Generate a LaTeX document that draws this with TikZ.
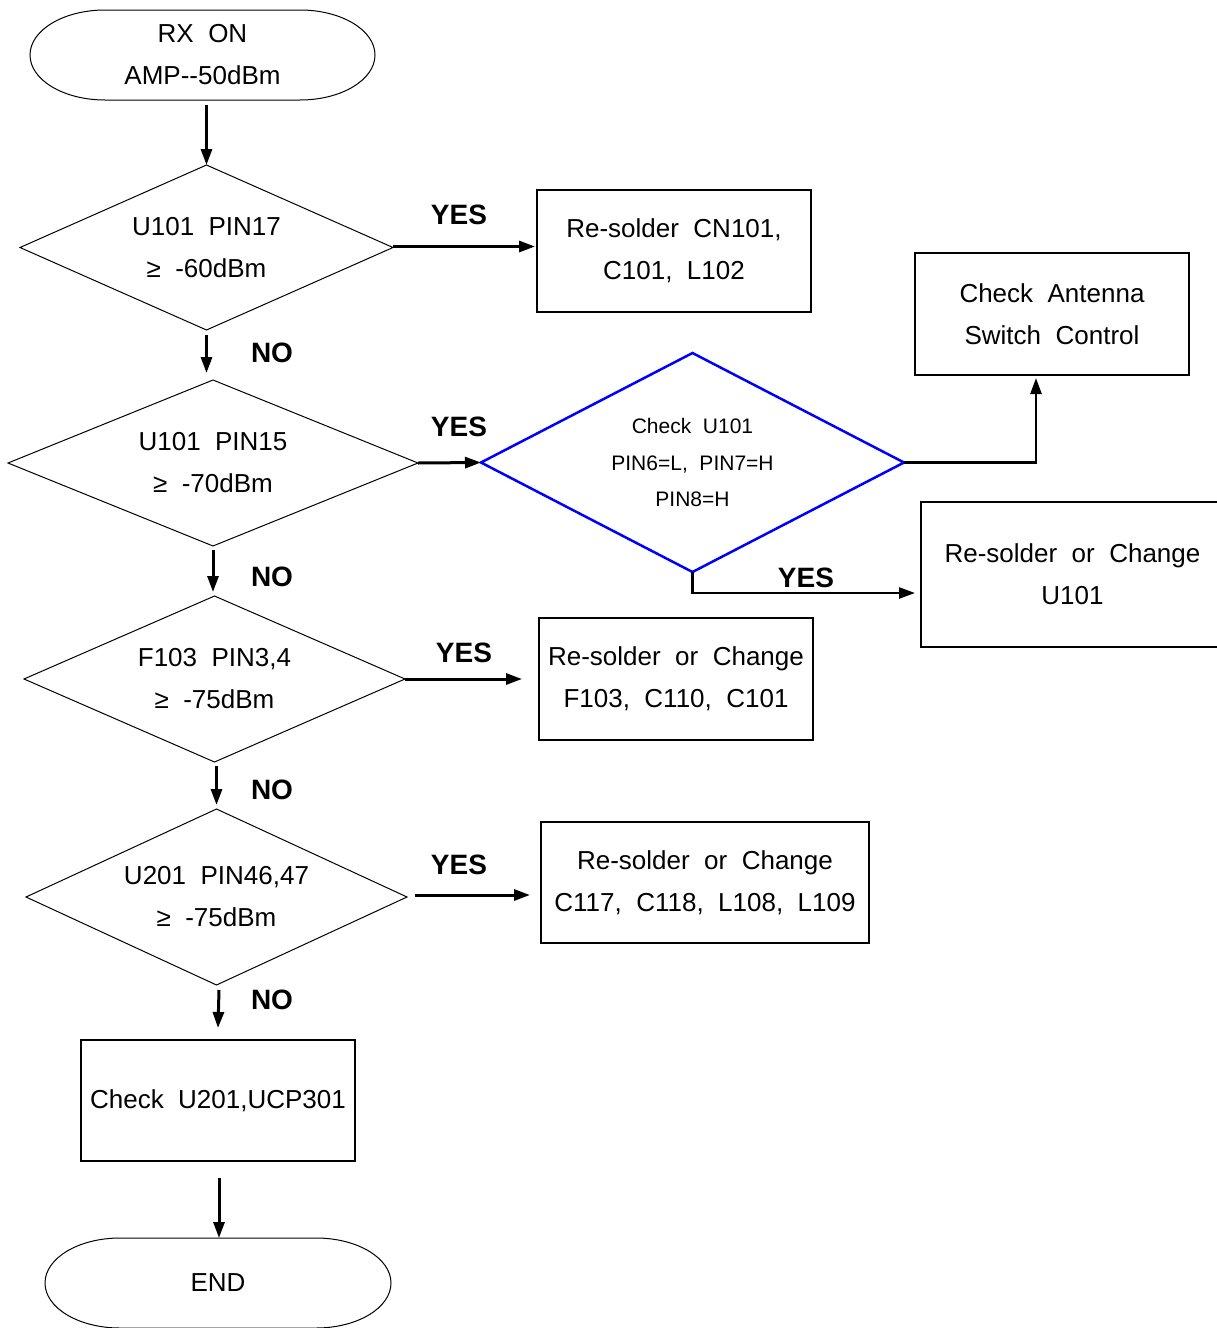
\documentclass[tikz,border=0pt]{standalone}
\usepackage{fontspec}
\setmainfont{Liberation Sans}
\usetikzlibrary{shapes.geometric,arrows.meta,calc}
\begin{document}
\begin{tikzpicture}[x=1pt,y=-1pt,
  base/.style={inner sep=0pt, outer sep=0pt, align=center, font=\fontsize{26}{42}\selectfont},
  dia/.style={base, diamond, draw, line width=1pt},
  bluedia/.style={base, diamond, draw=blue, line width=2.5pt, font=\fontsize{21}{36.5}\selectfont},
  box/.style={base, rectangle, draw, line width=1.5pt},
  term/.style={base},
  termline/.style={line width=1pt},
  arr/.style={line width=3pt, -{Triangle[length=16pt,width=11pt]}},
  thinarr/.style={line width=2.5pt, -{Triangle[length=16pt,width=11pt]}},
  lbl/.style={font=\fontsize{28}{30}\selectfont\bfseries, inner sep=0pt},
]
\useasboundingbox (0,0) rectangle (1217,1328);

% start terminal
\node[term, minimum width=345pt, minimum height=90pt] (start) at (202.5,55) {RX~~ON\\AMP-{}-50dBm};
\draw[termline] ($(start.north west)+(75,0)$) -- ($(start.north east)+(-75,0)$)
  arc[start angle=90, end angle=-90, x radius=75pt, y radius=45pt]
  -- ($(start.south west)+(75,0)$)
  arc[start angle=270, end angle=90, x radius=75pt, y radius=45pt] -- cycle;

% diamonds
\node[dia, aspect=2.26, minimum width=373pt, minimum height=165pt] (d1) at (206.5,247.5) {U101~~PIN17\\≥~~-60dBm};
\node[dia, aspect=2.47, minimum width=410pt, minimum height=166pt] (d2) at (213,463) {U101~~PIN15\\≥~~-70dBm};
\node[dia, aspect=2.3, minimum width=381pt, minimum height=166pt] (d3) at (214.5,679) {F103~~PIN3,4\\≥~~-75dBm};
\node[dia, aspect=2.16, minimum width=381pt, minimum height=176pt] (d4) at (216.5,897) {U201~~PIN46,47\\≥~~-75dBm};
\node[bluedia, aspect=1.93, minimum width=423pt, minimum height=219pt] (blue) at (692.5,462.5) {Check~~U101\\PIN6=L,~~PIN7=H\\PIN8=H};

% boxes
\node[box, minimum width=274pt, minimum height=122pt] (b1) at (674,251) {Re-solder~~CN101,\\C101,~~L102};
\node[box, minimum width=274pt, minimum height=122pt] (bant) at (1052,314) {Check~~Antenna\\Switch~~Control};
\node[box, minimum width=303pt, minimum height=145pt] (bu) at (1072.5,574.5) {Re-solder~~or~~Change\\U101};
\node[box, minimum width=274pt, minimum height=122pt] (b3) at (676,679) {Re-solder~~or~~Change\\F103,~~C110,~~C101};
\node[box, minimum width=328pt, minimum height=121pt] (b4) at (705,882.5) {Re-solder~~or~~Change\\C117,~~C118,~~L108,~~L109};
\node[box, minimum width=274pt, minimum height=121pt] (b5) at (218,1100.5) {Check~~U201,UCP301};

% end terminal
\node[term, minimum width=346pt, minimum height=90pt] (endn) at (218,1283) {END};
\draw[termline] ($(endn.north west)+(75,0)$) -- ($(endn.north east)+(-75,0)$)
  arc[start angle=90, end angle=-90, x radius=75pt, y radius=45pt]
  -- ($(endn.south west)+(75,0)$)
  arc[start angle=270, end angle=90, x radius=75pt, y radius=45pt] -- cycle;

% connectors
\draw[arr] ($(d1.north |- start.south)+(0,5)$) -- (d1.north);
\draw[arr] ($(d1.east)+(0,-1)$) -- ($(b1.west |- d1.east)+(-2,-1)$);
\draw[arr] ($(d1.south)+(0,5)$) -- ($(d1.south |- d2.north)+(0,-7)$);
\draw[arr] (d2.east) -- (blue.west);
\draw[thinarr] (blue.east) -| ($(bant.south west)+(121,3)$);
\draw[thinarr] (blue.south) |- ($(bu.west)+(-6,18.5)$);
\draw[arr] ($(d2.south)+(0,4)$) -- ($(d2.south |- d3.north)+(0,-4)$);
\draw[arr] (d3.east) -- ($(b3.west)+(-17,0)$);
\draw[arr] ($(d3.south)+(2,4)$) -- ($(d3.south |- d4.north)+(2,-4)$);
\draw[arr] ($(d4.east)+(8,-2)$) -- ($(b4.west |- d4.east)+(-11,-2)$);
\draw[arr] ($(d4.south)+(2.5,5)$) -- ($(b5.north)+(0,-12)$);
\draw[arr] ($(b5.south)+(1,17)$) -- ($(endn.north)+(1,0)$);

% labels
\node[lbl] (y1) at (459,215) {YES};
\node[lbl] (n1) at (272,353) {NO};
\node[lbl] (y2) at (459,427) {YES};
\node[lbl] (y3) at (806,578) {YES};
\node[lbl] (n2) at (272,577) {NO};
\node[lbl] (y4) at (464,653) {YES};
\node[lbl] (n3) at (272,790) {NO};
\node[lbl] (y5) at (459,865) {YES};
\node[lbl] (n4) at (272,1000) {NO};
\end{tikzpicture}
\end{document}
